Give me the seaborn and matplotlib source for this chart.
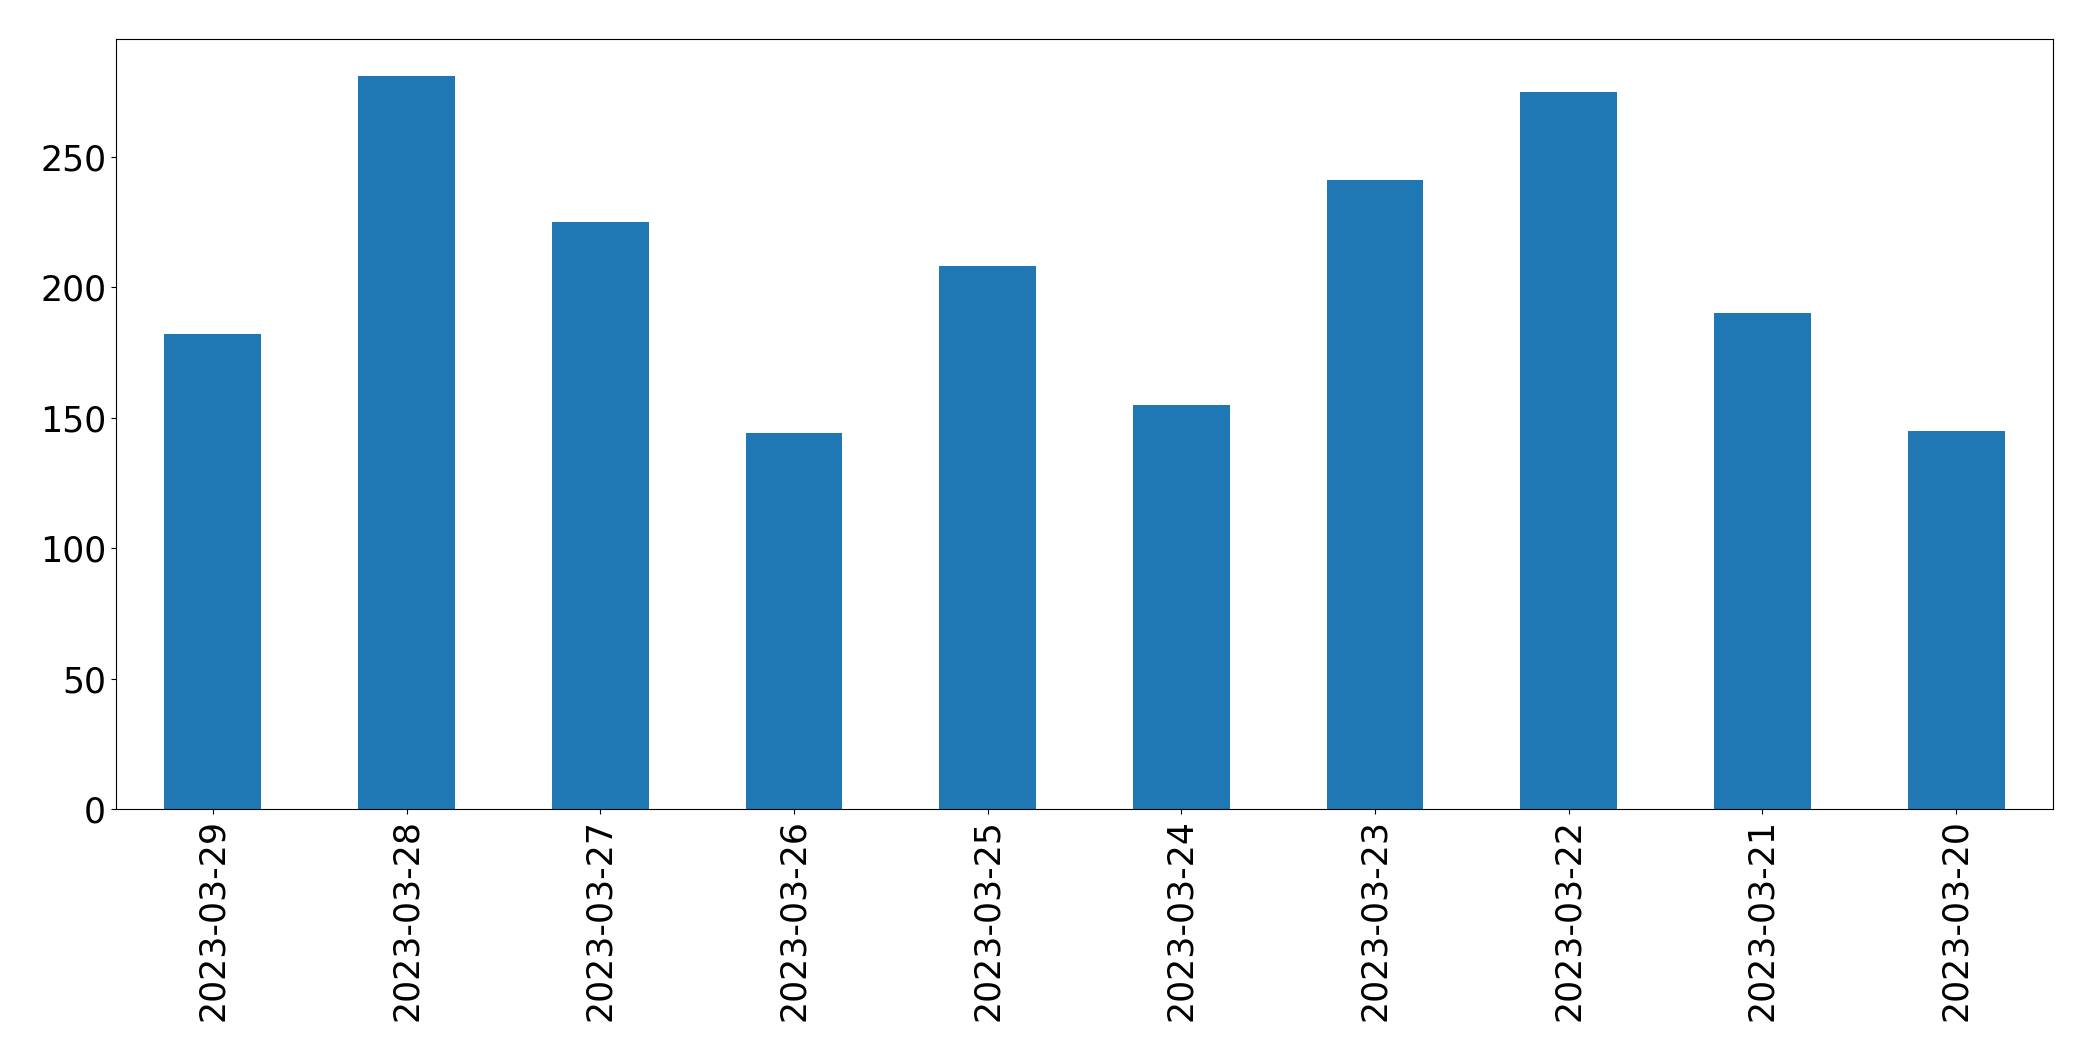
import matplotlib
matplotlib.use("Agg")
import matplotlib.pyplot as plt
import seaborn as sns
import pandas as pd

dates = ["2023-03-29", "2023-03-28", "2023-03-27", "2023-03-26", "2023-03-25",
         "2023-03-24", "2023-03-23", "2023-03-22", "2023-03-21", "2023-03-20"]
counts = [182, 281, 225, 144, 208, 155, 241, 275, 190, 145]

df = pd.DataFrame({"date": dates, "count": counts})

fig = plt.figure(figsize=(20.93, 10.61), dpi=100)
ax = fig.add_axes([0.0554, 0.2375, 0.9255, 0.7255])
sns.barplot(data=df, x="date", y="count", order=dates, color="#1f77b4",
            saturation=1, width=0.5, linewidth=0, ax=ax)
ax.set_xlim(-0.5, len(dates) - 0.5)
ax.set_ylim(0, max(counts) * 1.05)
ax.set_xlabel("")
ax.set_ylabel("")
ax.tick_params(axis="both", labelsize=25)
ax.tick_params(axis="x", labelrotation=90)
for s in ax.spines.values():
    s.set_visible(True)
    s.set_color("black")
fig.savefig("out.png", dpi=100)
